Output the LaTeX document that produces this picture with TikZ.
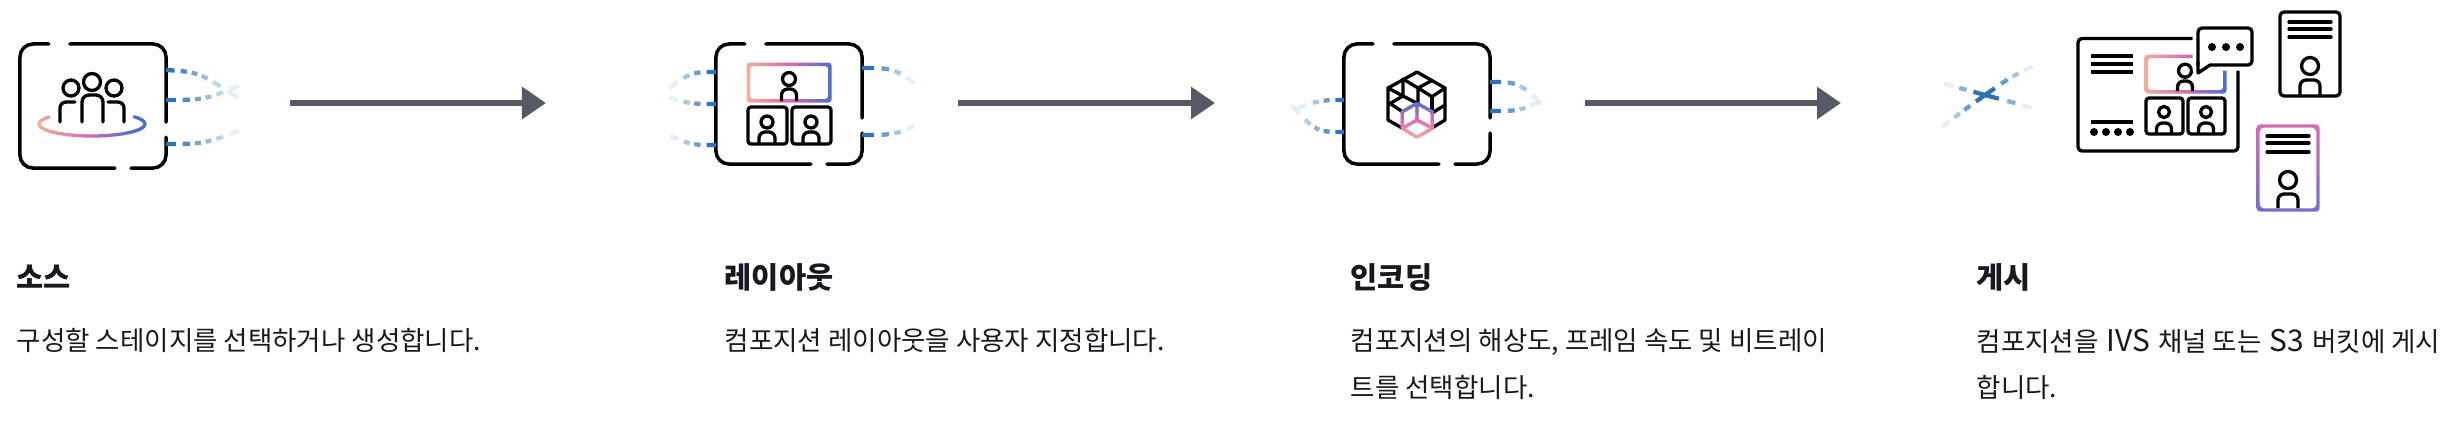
\documentclass[tikz,border=0pt]{standalone}
\usepackage{fontspec}
\setmainfont{Noto Sans CJK KR}
\usetikzlibrary{calc,arrows.meta}
\definecolor{gradpeach}{HTML}{F4AC9B}
\definecolor{gradpink}{HTML}{D86BB2}
\definecolor{gradblue}{HTML}{4A6FD0}
\definecolor{gradviolet}{HTML}{7470C8}
\definecolor{wireblue}{HTML}{2E73B8}
\definecolor{flowgray}{HTML}{545B64}
\definecolor{inkblack}{HTML}{16191F}
\newcommand{\FadeWire}[4]%
% start, control, end, dashes
{ \foreach \I in {1,...,#4}
    {   \pgfmathsetmacro{\P}{(\I-1)/#4}
        \pgfmathsetmacro{\Q}{(\I-0.45)/#4}
        \pgfmathsetmacro{\O}{1-0.88*(\I-1)/(#4-1)}
        \path (#1) .. controls (#2) .. (#3)
            coordinate[pos=\P] (wire-a) coordinate[pos=\Q] (wire-b);
        \draw[wireline, draw opacity=\O] (wire-a) -- (wire-b);
    }
}
\newcommand{\IconFrame}[1]%
% name of the frame node
{ \draw[frameline] ($(#1.north west)+(29,0)$) -- (#1.north west) -- (#1.south west) -- ($(#1.south west)+(95,0)$);
  \draw[frameline] ($(#1.south west)+(111,0)$) -- (#1.south east) -- ($(#1.south east)+(0,-31)$);
  \draw[frameline] ($(#1.south east)+(0,-46)$) -- (#1.north east) -- ($(#1.north west)+(50,0)$);
}
\newcommand{\Person}[6]%
% center x, head y, head radius, half width, shoulder y, base y
{ \draw[iconline] (#1,#2) circle[radius=#3];
  \draw[iconline, line cap=butt, rounded corners=.06cm] ({#1-#4},#6) -- ({#1-#4},#5) -- ({#1+#4},#5) -- ({#1+#4},#6);
}
\newcommand{\SetGrad}[1]%
% fraction from peach over pink to blue
{ \pgfmathsetmacro{\Ca}{min((#1)*2,1)*100}
  \pgfmathsetmacro{\Cb}{max((#1)*2-1,0)*100}
  \colorlet{GradA}{gradpink!\Ca!gradpeach}
  \colorlet{GradB}{gradblue!\Cb!GradA}
}
\newcommand{\Lat}[1]%
% latin word in the body text
{\hspace{.6pt}{\fontsize{8.5}{13.3}\selectfont #1}\hspace{.6pt}}
\begin{document}
\begin{tikzpicture}
[   x=.01cm, y=-.01cm,
    framenode/.style={minimum width=1.46cm, minimum height=1.2cm, inner sep=0, outer sep=0},
    frameline/.style={black, line width=.035cm, line cap=round, rounded corners=.13cm},
    iconline/.style={black, line width=.033cm, line cap=round, line join=round},
    gradline/.style={line width=.033cm, line cap=round, line join=round},
    wireline/.style={wireblue, line width=.043cm},
    flowarrow/.style={flowgray, line width=.06cm, -{Triangle[length=.24cm, width=.31cm]}},
    title/.style={anchor=base west, inner sep=0, text=inkblack, font=\fontsize{8.4}{10}\selectfont\bfseries},
    body/.style={anchor=north west, inner sep=0, align=left, text=inkblack, font=\fontsize{7.54}{13.3}\selectfont}
]
    \useasboundingbox (0,0) rectangle (2452,432);

    % frames
    \node[framenode, minimum height=1.24cm] (source) at (93,106) {};
    \node[framenode] (layout) at (789,104) {};
    \node[framenode] (encoding) at (1417,104) {};
    \IconFrame{source}
    \IconFrame{layout}
    \IconFrame{encoding}

    % flow arrows
    \foreach \n/\a/\b in {1/290/546,2/958/1215,3/1585/1841}
    {   \coordinate (flow-\n-a) at (\a,103);
        \coordinate (flow-\n-b) at (\b,103);
        \draw[flowarrow] (flow-\n-a) -- (flow-\n-b);
    }

    % wires
    \coordinate (source-a) at (248,105);
    \coordinate (source-b) at (248,82);
    \coordinate (source-c) at (248,127);
    \FadeWire{$(source.north east)+(0,26)$}{200,72}{source-a}{6}
    \FadeWire{$(source.north east)+(0,56)$}{205,100}{source-b}{6}
    \FadeWire{$(source.north east)+(0,100)$}{205,144}{source-c}{6}

    \coordinate (layout-a) at (660,95);
    \coordinate (layout-b) at (662,132);
    \coordinate (layout-c) at (923,90);
    \coordinate (layout-d) at (923,122);
    \FadeWire{$(layout.north west)+(0,28)$}{690,72}{layout-a}{4}
    \FadeWire{$(layout.north west)+(0,60)$}{690,104}{layout-a}{4}
    \FadeWire{$(layout.north west)+(0,101)$}{690,145}{layout-b}{4}
    \FadeWire{$(layout.north east)+(0,24)$}{895,68}{layout-c}{4}
    \FadeWire{$(layout.north east)+(0,91)$}{895,135}{layout-d}{4}

    \coordinate (encoding-a) at (1288,111);
    \coordinate (encoding-b) at (1285,97);
    \coordinate (encoding-c) at (1550,113);
    \coordinate (encoding-d) at (1546,99);
    \FadeWire{$(encoding.north west)+(0,56)$}{1320,100}{encoding-a}{4}
    \FadeWire{$(encoding.north west)+(0,88)$}{1315,132}{encoding-b}{5}
    \FadeWire{$(encoding.north east)+(0,38)$}{1520,82}{encoding-c}{4}
    \FadeWire{$(encoding.north east)+(0,67)$}{1520,111}{encoding-d}{4}

    \coordinate (cross) at (1985,95);
    \coordinate (cross-a) at (1934,81);
    \coordinate (cross-b) at (2042,111);
    \coordinate (cross-c) at (1934,133);
    \coordinate (cross-d) at (2042,62);
    \FadeWire{cross}{1960,88}{cross-a}{3}
    \FadeWire{cross}{2015,103}{cross-b}{3}
    \FadeWire{cross}{1960,113}{cross-c}{4}
    \FadeWire{cross}{2012,76}{cross-d}{4}

    % source icon
    \draw[iconline] (92,82) circle[radius=8.5];
    \draw[iconline] (71,88) circle[radius=8];
    \draw[iconline] (114,88) circle[radius=8];
    \draw[iconline, rounded corners=.06cm] (60,122) -- (60,102) -- (75,102);
    \draw[iconline, rounded corners=.07cm] (82,122) -- (82,95) -- (103,95) -- (103,122);
    \draw[iconline, rounded corners=.06cm] (124,122) -- (124,102) -- (108,102);
    \foreach \I in {0,...,35}
    {   \pgfmathsetmacro{\A}{216-7.03*\I}
        \pgfmathsetmacro{\B}{216-7.03*(\I+1)}
        \SetGrad{min((cos(\A)+1)/2*1.15,1)}
        \draw[gradline, GradB] ({92+53*cos(\A)},{124+12*sin(\A)}) -- ({92+53*cos(\B)},{124+12*sin(\B)});
    }

    % layout icon
    \shade[left color=gradpeach, right color=gradblue, middle color=gradpink, even odd rule, rounded corners=.03cm]
        (746.5,62.5) rectangle (831.5,102.5) (750,66) rectangle (828,99);
    \Person{789}{79}{6.5}{7.5}{89}{101}
    \draw[iconline, rounded corners=.03cm] (748,107) rectangle (787,144);
    \draw[iconline, rounded corners=.03cm] (792,107) rectangle (831,144);
    \Person{767}{122}{6}{8}{132}{143}
    \Person{811}{122}{6}{8}{132}{143}

    % encoding icon
    \draw[iconline] (1402,128) -- (1388,120) -- (1388,88) -- (1417,72) -- (1445,88) -- (1445,120) -- (1432,128);
    \draw[iconline] (1403,79) -- (1418,88) -- (1431,81);
    \draw[iconline] (1403,79) -- (1403,96) -- (1388,88);
    \draw[iconline] (1403,96) -- (1417.5,103.5);
    \draw[iconline] (1403,96) -- (1390,103.5) -- (1403,112);
    \draw[iconline] (1445,88) -- (1432,96.7) -- (1418,88) -- (1418,103);
    \draw[iconline] (1432,96.7) -- (1432,112);
    \draw[iconline] (1432,113) -- (1445,105);
    \foreach \I in {0,...,15}
    {   \SetGrad{1-\I/15}
        \begin{scope}
            \clip (1398,{101+\I*2.4}) rectangle (1437,{101+(\I+1)*2.4+0.4});
            \draw[gradline, GradB] (1417,103.3) -- (1432.3,111.7) -- (1432.3,128.3) -- (1417,137.3) -- (1402.3,128.3) -- (1402.3,111.7) -- cycle
                (1417,103.3) -- (1417,120) -- (1402.3,128.3) (1417,120) -- (1432.3,128.3);
        \end{scope}
    }

    % publish icon
    \draw[iconline, rounded corners=.04cm] (2192,38.5) -- (2078,38.5) -- (2078,151) -- (2238,151) -- (2238,71);
    \foreach \y in {56,64,72,122}
    {   \draw[iconline, line cap=butt] (2091,\y) -- (2133,\y);
    }
    \foreach \x in {2094,2106,2118,2130}
    {   \fill[black] (\x,132) circle[radius=4];
    }
    \shade[left color=gradpeach, right color=gradblue, middle color=gradpink, even odd rule, rounded corners=.03cm]
        (2144.5,54.5) rectangle (2226.5,93.5) (2148,58) rectangle (2223,90);
    \Person{2185}{70.7}{6.5}{7.5}{81}{91}
    \draw[iconline, rounded corners=.03cm] (2146,98) rectangle (2183,134);
    \draw[iconline, rounded corners=.03cm] (2188,98) rectangle (2225,134);
    \Person{2164}{112}{5.5}{7.5}{123}{133}
    \Person{2206}{112}{5.5}{7.5}{123}{133}
    \draw[white, fill=white, line width=.11cm, line join=round, rounded corners=.04cm]
        (2198,28) -- (2252,28) -- (2252,65) -- (2210,65) -- (2198,73) -- cycle;
    \draw[iconline, rounded corners=.04cm] (2210,65) -- (2252,65) -- (2252,28) -- (2198,28) -- (2198,65);
    \draw[iconline] (2198,62) -- (2198,73) -- (2210,65);
    \foreach \x in {2212,2226,2240}
    {   \fill[black] (\x,47) circle[radius=4];
    }
    \draw[iconline, rounded corners=.04cm] (2280,12) rectangle (2340,96);
    \foreach \y in {22,29,37}
    {   \draw[iconline] (2289,\y) -- (2331,\y);
    }
    \Person{2310}{66}{8.5}{10}{80}{95}
    \shade[top color=gradpink, bottom color=gradviolet, even odd rule, rounded corners=.04cm]
        (2256.3,124.3) rectangle (2319.7,211.7) (2259.7,127.7) rectangle (2316.3,208.3);
    \foreach \y in {136,143,152}
    {   \draw[iconline] (2267,\y) -- (2309,\y);
    }
    \Person{2288}{180}{8.5}{10}{194}{208}

    % texts
    \node[title] (source-title) at (16,288) {소스};
    \node[title] (layout-title) at (724,288) {레이아웃};
    \node[title] (encoding-title) at (1350,288) {인코딩};
    \node[title] (publish-title) at (1976,288) {게시};
    \node[body] (source-text) at (16,328) {구성할 스테이지를 선택하거나 생성합니다.};
    \node[body] (layout-text) at (724,328) {컴포지션 레이아웃을 사용자 지정합니다.};
    \node[body] (encoding-text) at (1350,328) {컴포지션의 해상도, 프레임 속도 및 비트레이\\트를 선택합니다.};
    \node[body] (publish-text) at (1976,328) {컴포지션을 \Lat{IVS} 채널 또는 \Lat{S3} 버킷에 게시\\합니다.};
\end{tikzpicture}
\end{document}
